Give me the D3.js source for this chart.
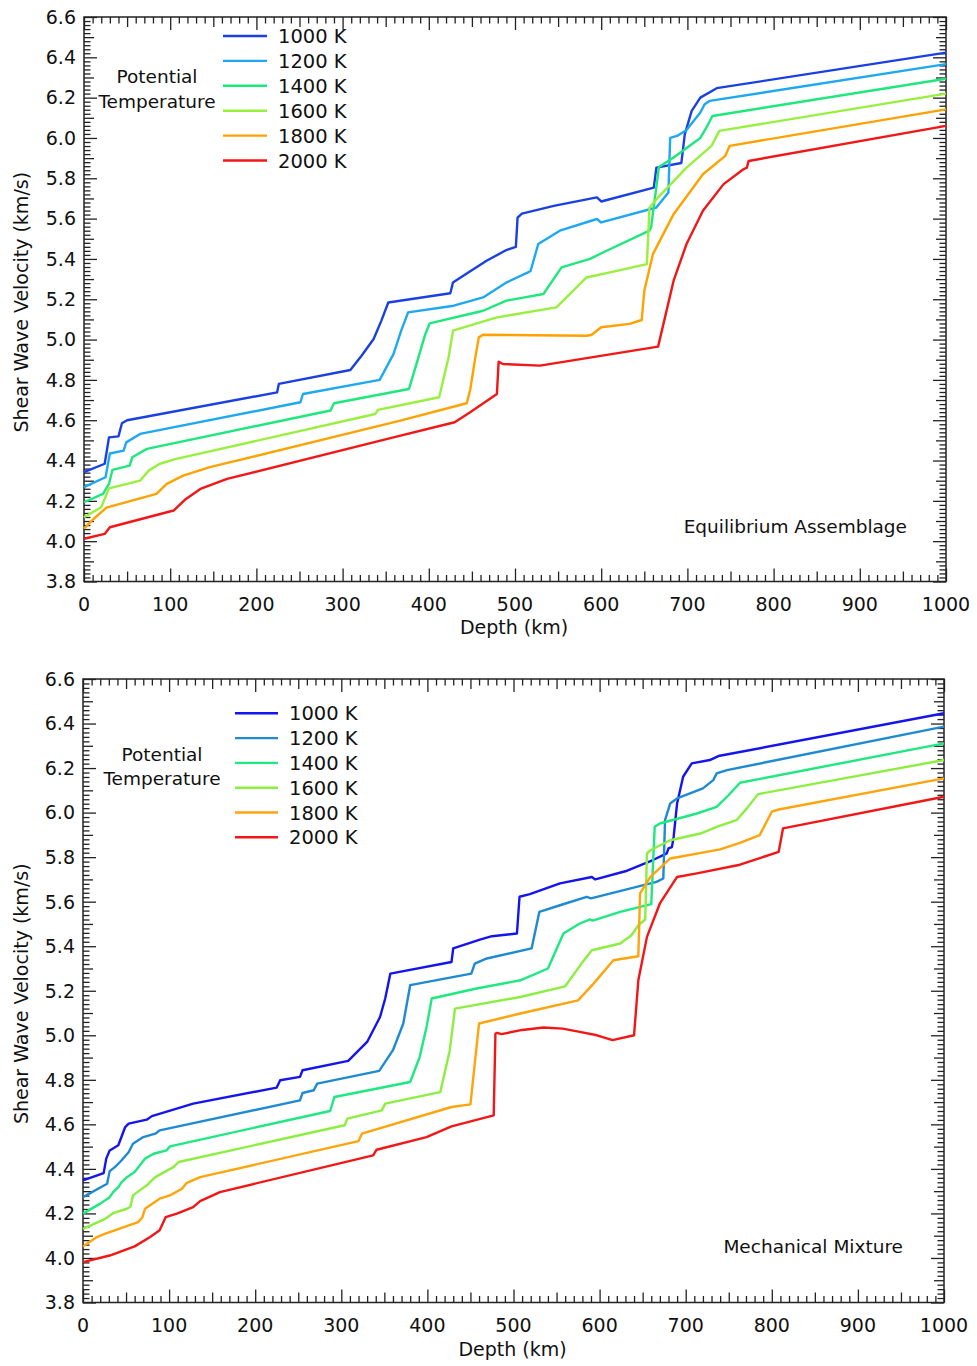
<!DOCTYPE html>
<html><head><meta charset="utf-8">
<script src="https://cdnjs.cloudflare.com/ajax/libs/d3/7.8.5/d3.min.js"></script>
<style>body{margin:0;background:#fff;} text{font-family:"DejaVu Sans",sans-serif;fill:#111;}</style>
</head><body>
<script>
// ---------- DATA ----------
const temperatures = ["1000 K","1200 K","1400 K","1600 K","1800 K","2000 K"];
const xTicks = [0,100,200,300,400,500,600,700,800,900,1000];
const yTicks = [3.8,4.0,4.2,4.4,4.6,4.8,5.0,5.2,5.4,5.6,5.8,6.0,6.2,6.4,6.6];

// Equilibrium Assemblage: [depth km, Vs km/s]
const eq1000 = [[0,4.342],[24,4.384],[29,4.515],[40,4.52],[44,4.585],[50,4.60],[224,4.738],[226,4.78],[309,4.849],[322,4.92],[336,5.003],[345,5.094],[353,5.184],[425,5.23],[428,5.283],[440,5.317],[467,5.391],[490,5.444],[501,5.46],[503,5.605],[508,5.625],[545,5.663],[595,5.705],[600,5.685],[661,5.754],[664,5.853],[693,5.876],[697,6.019],[705,6.134],[715,6.2],[734,6.247],[1000,6.423]];
const eq1200 = [[0,4.268],[25,4.317],[30,4.435],[46,4.449],[49,4.49],[65,4.532],[251,4.689],[254,4.73],[343,4.80],[359,4.928],[368,5.044],[376,5.135],[429,5.168],[463,5.209],[490,5.283],[515,5.333],[518,5.34],[527,5.474],[552,5.54],[595,5.598],[600,5.581],[664,5.655],[678,5.73],[680,6.0],[688,6.01],[699,6.04],[715,6.126],[720,6.167],[726,6.184],[1000,6.366]];
const eq1400 = [[0,4.193],[22,4.235],[29,4.284],[33,4.354],[53,4.375],[56,4.416],[73,4.458],[286,4.648],[290,4.684],[377,4.755],[388,4.912],[396,5.028],[401,5.08],[463,5.143],[490,5.193],[533,5.226],[554,5.358],[587,5.40],[602,5.432],[656,5.54],[658,5.56],[667,5.856],[684,5.903],[715,6.0],[722,6.051],[729,6.109],[1000,6.294]];
const eq1600 = [[0,4.119],[20,4.168],[29,4.262],[65,4.30],[75,4.35],[88,4.384],[107,4.408],[338,4.631],[341,4.651],[412,4.714],[423,4.912],[428,5.044],[479,5.11],[548,5.16],[583,5.308],[618,5.341],[653,5.374],[656,5.655],[666,5.705],[699,5.853],[728,5.961],[737,6.035],[1000,6.22]];
const eq1800 = [[0,4.062],[11,4.11],[26,4.166],[84,4.235],[96,4.284],[115,4.325],[146,4.367],[367,4.598],[444,4.684],[448,4.75],[454,4.912],[458,5.011],[463,5.024],[583,5.019],[589,5.024],[600,5.061],[633,5.078],[647,5.097],[650,5.242],[660,5.424],[684,5.622],[718,5.82],[744,5.911],[749,5.961],[1000,6.142]];
const eq2000 = [[0,4.012],[24,4.036],[30,4.069],[104,4.152],[117,4.205],[135,4.259],[166,4.309],[359,4.515],[430,4.59],[448,4.64],[479,4.73],[481,4.89],[486,4.879],[529,4.871],[666,4.965],[674,5.11],[684,5.292],[699,5.474],[718,5.639],[742,5.771],[765,5.845],[769,5.853],[771,5.886],[1000,6.06]];

// Mechanical Mixture
const mm1000 = [[0,4.348],[24,4.381],[27,4.446],[31,4.483],[41,4.506],[49,4.588],[53,4.603],[74,4.621],[80,4.637],[128,4.693],[225,4.765],[229,4.798],[252,4.813],[255,4.843],[308,4.885],[330,4.97],[345,5.082],[351,5.165],[357,5.277],[428,5.329],[430,5.39],[461,5.43],[475,5.445],[504,5.457],[507,5.622],[519,5.634],[554,5.682],[591,5.711],[595,5.70],[632,5.739],[662,5.787],[678,5.817],[680,5.839],[684,5.845],[686,5.891],[690,6.041],[697,6.161],[707,6.221],[728,6.236],[738,6.254],[1000,6.446]];
const mm1200 = [[0,4.273],[28,4.333],[31,4.39],[37,4.408],[43,4.431],[53,4.475],[58,4.513],[70,4.543],[84,4.558],[89,4.573],[252,4.708],[255,4.741],[268,4.753],[272,4.783],[344,4.84],[360,4.933],[372,5.053],[380,5.225],[451,5.277],[455,5.322],[469,5.345],[521,5.39],[530,5.554],[554,5.584],[585,5.622],[590,5.615],[666,5.689],[674,5.704],[676,5.966],[682,6.041],[690,6.064],[720,6.109],[732,6.146],[736,6.176],[748,6.191],[1000,6.386]];
const mm1400 = [[0,4.199],[20,4.244],[31,4.273],[35,4.296],[41,4.318],[45,4.341],[51,4.363],[60,4.386],[72,4.446],[82,4.468],[97,4.483],[101,4.501],[287,4.66],[292,4.723],[380,4.79],[391,4.902],[399,5.037],[405,5.165],[457,5.21],[508,5.247],[540,5.30],[558,5.457],[577,5.502],[589,5.52],[592,5.515],[624,5.554],[660,5.589],[664,5.936],[670,5.951],[713,5.996],[736,6.026],[750,6.079],[763,6.134],[1000,6.311]];
const mm1600 = [[0,4.131],[24,4.172],[35,4.201],[51,4.221],[55,4.23],[58,4.281],[74,4.326],[84,4.363],[105,4.408],[111,4.431],[304,4.596],[307,4.626],[347,4.663],[351,4.693],[415,4.745],[426,4.933],[432,5.12],[508,5.172],[560,5.22],[579,5.322],[591,5.382],[624,5.412],[637,5.449],[645,5.494],[653,5.52],[655,5.817],[659,5.831],[682,5.876],[717,5.906],[736,5.936],[759,5.966],[771,6.019],[784,6.083],[1000,6.236]];
const mm1800 = [[0,4.052],[16,4.094],[26,4.109],[64,4.161],[69,4.183],[72,4.221],[89,4.266],[101,4.281],[115,4.311],[120,4.336],[136,4.363],[320,4.525],[324,4.558],[428,4.678],[450,4.69],[455,4.873],[460,5.053],[508,5.098],[575,5.157],[593,5.232],[616,5.337],[645,5.355],[647,5.637],[659,5.711],[682,5.794],[740,5.835],[763,5.864],[786,5.899],[800,6.004],[808,6.014],[1000,6.154]];
const mm2000 = [[0,3.981],[31,4.011],[60,4.052],[78,4.094],[89,4.124],[96,4.183],[109,4.199],[128,4.228],[136,4.255],[159,4.296],[337,4.461],[341,4.486],[399,4.543],[428,4.591],[477,4.64],[479,5.008],[481,5.011],[486,5.005],[510,5.024],[535,5.035],[557,5.03],[577,5.015],[597,5.0],[615,4.978],[640,5.0],[645,5.247],[655,5.442],[670,5.592],[690,5.711],[713,5.727],[763,5.766],[808,5.824],[813,5.929],[1000,6.071]];

const eqColors = ["#1a40e4","#1ea8f2","#1ee87c","#98f03e","#ffa200","#f31616"];
const mmColors = ["#1414ee","#1e8ad2","#1ee880","#8cef40","#ffa40c","#f31616"];

// ---------- LAYOUT ----------
const panels = [
  {series:[eq1000,eq1200,eq1400,eq1600,eq1800,eq2000], colors:eqColors,
   x0:84,x1:946,y0:17,y1:581.5, legLine:[223,267], legText:278, legY0:36, legDy:24.9,
   potX:157, potY:[83,108], note:"Equilibrium Assemblage", noteX:907, noteY:533,
   xLabY:611, xTitleY:634},
  {series:[mm1000,mm1200,mm1400,mm1600,mm1800,mm2000], colors:mmColors,
   x0:83,x1:944,y0:679,y1:1302.5, legLine:[235,278], legText:289, legY0:713.3, legDy:24.8,
   potX:162, potY:[761,785], note:"Mechanical Mixture", noteX:903, noteY:1253,
   xLabY:1332, xTitleY:1356}
];

const svg = d3.select("body").append("svg").attr("width",977).attr("height",1366);

panels.forEach(p => {
  const x = d3.scaleLinear().domain([0,1000]).range([p.x0,p.x1]);
  const y = d3.scaleLinear().domain([3.8,6.6]).range([p.y1,p.y0]);
  const g = svg.append("g");

  // ticks
  const xMinor = d3.range(0,1001,10).filter(d=>d%50!==0);
  const xMed = d3.range(50,1000,100);
  const yIdx = d3.range(190,331); // 0.02 steps
  const yMinor = yIdx.filter(i=>i%5!==0).map(i=>i/50);
  const yMed = yIdx.filter(i=>i%5===0 && i%10!==0).map(i=>i/50);
  const tickSets = [[xTicks,13],[xMed,10],[xMinor,6.5]];
  const ytickSets = [[yTicks,13],[yMed,10],[yMinor,6.5]];
  function add(axisFn, scale, vals, len, tx, ty){
    const a = g.append("g").attr("transform",`translate(${tx},${ty})`)
      .call(axisFn(scale).tickValues(vals).tickSize(-len).tickFormat(""));
    a.select(".domain").remove();
    a.selectAll("line").attr("stroke","#222").attr("stroke-width",1.3);
  }
  tickSets.forEach(([v,l])=>{ add(d3.axisBottom,x,v,l,0,p.y1); add(d3.axisTop,x,v,l,0,p.y0); });
  ytickSets.forEach(([v,l])=>{ add(d3.axisLeft,y,v,l,p.x0,0); add(d3.axisRight,y,v,l,p.x1,0); });

  // frame
  g.append("rect").attr("x",p.x0).attr("y",p.y0).attr("width",p.x1-p.x0).attr("height",p.y1-p.y0)
   .attr("fill","none").attr("stroke","#222").attr("stroke-width",1.5);

  // tick labels
  g.selectAll(".yl").data(yTicks).enter().append("text")
   .attr("x",p.x0-8).attr("y",d=>y(d)).attr("dy","0.36em").attr("text-anchor","end")
   .attr("font-size",19).text(d=>d3.format(".1f")(d));
  g.selectAll(".xl").data(xTicks).enter().append("text")
   .attr("x",d=>x(d)).attr("y",p.xLabY).attr("text-anchor","middle")
   .attr("font-size",19).text(d=>d);

  // axis titles
  g.append("text").attr("x",(p.x0+p.x1)/2 - 1).attr("y",p.xTitleY).attr("text-anchor","middle")
   .attr("font-size",19).text("Depth (km)");
  g.append("text").attr("transform",`translate(28,${(p.y0+p.y1)/2+3}) rotate(-90)`)
   .attr("text-anchor","middle").attr("font-size",19).text("Shear Wave Velocity (km/s)");

  // lines
  const line = d3.line().x(d=>x(d[0])).y(d=>y(d[1]));
  p.series.forEach((s,i)=>{
    g.append("path").datum(s).attr("d",line).attr("fill","none")
     .attr("stroke",p.colors[i]).attr("stroke-width",2.4).attr("stroke-linejoin","round");
  });

  // legend
  temperatures.forEach((t,i)=>{
    const ly = p.legY0 + i*p.legDy;
    g.append("line").attr("x1",p.legLine[0]).attr("x2",p.legLine[1]).attr("y1",ly).attr("y2",ly)
     .attr("stroke",p.colors[i]).attr("stroke-width",2.4);
    g.append("text").attr("x",p.legText).attr("y",ly+7).attr("font-size",19.5).text(t);
  });
  g.append("text").attr("x",p.potX).attr("y",p.potY[0]).attr("text-anchor","middle").attr("font-size",18.5).text("Potential");
  g.append("text").attr("x",p.potX).attr("y",p.potY[1]).attr("text-anchor","middle").attr("font-size",18.5).text("Temperature");

  // note
  g.append("text").attr("x",p.noteX).attr("y",p.noteY).attr("text-anchor","end").attr("font-size",18.5).text(p.note);
});
</script>
</body></html>
